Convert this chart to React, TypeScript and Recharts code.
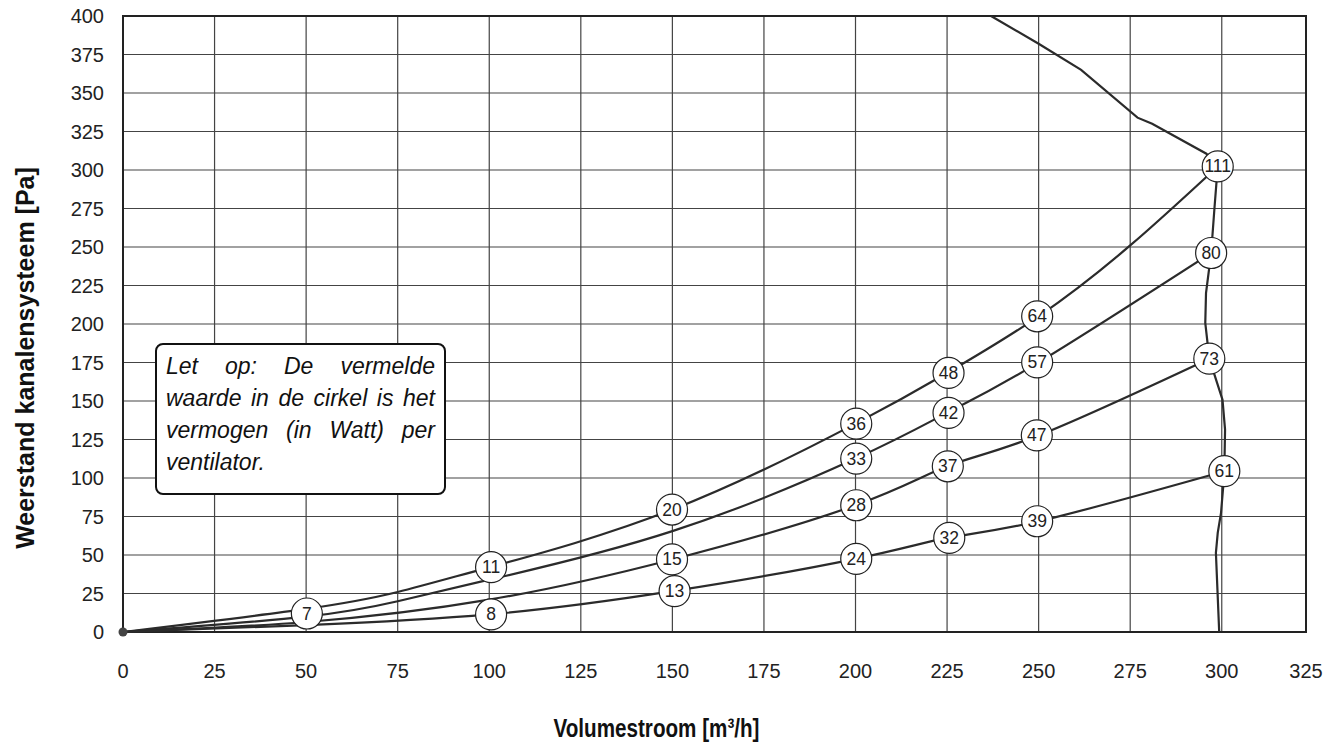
import React from 'react';
import {
  ComposedChart,
  Line,
  Scatter,
  XAxis,
  YAxis,
  CartesianGrid,
  ReferenceArea,
  Label,
} from 'recharts';

// ---- axis ticks ----
const xTicks = [0, 25, 50, 75, 100, 125, 150, 175, 200, 225, 250, 275, 300, 323];
const xTickLabels = ['0', '25', '50', '75', '100', '125', '150', '175', '200', '225', '250', '275', '300', '325'];
const yTicks = [0, 25, 50, 75, 100, 125, 150, 175, 200, 225, 250, 275, 300, 325, 350, 375, 400];

// ---- system (duct) curves: flow [m3/h] / pressure [Pa] ----
const curve1Flow = [0, 50, 75, 100, 150, 200, 225, 250, 275, 298.9];
const curve1Pa = [0, 15, 26, 42, 79.5, 135.3, 168.2, 205, 251, 302.3];

const curve2Flow = [0, 50, 75, 100, 150, 200, 225, 250, 297.1];
const curve2Pa = [0, 10, 20, 34, 65.5, 112.6, 142.3, 175.1, 246.1];

const curve3Flow = [0, 50, 100, 150, 200, 225, 250, 296.6];
const curve3Pa = [0, 6.5, 21, 47.1, 82.3, 107.6, 127.7, 177.5];

const curve4Flow = [0, 50, 100, 150, 200, 225, 250, 300.7];
const curve4Pa = [0, 4.5, 11.4, 26.5, 47.5, 61.1, 71.9, 104.4];

// ---- fan curve (max) ----
const fanFlow = [237, 250, 261.6, 277, 281, 295.8, 298.9, 298, 297.1, 295.7, 295.5, 296.6, 298, 300.2, 300.9, 300.7, 300.4, 299.8, 298.9, 298.4, 299.3];
const fanPa = [400, 382, 365, 334, 330, 310.6, 302.3, 275, 246.1, 220, 200.7, 177.5, 167.1, 150.9, 131.4, 104.4, 94.6, 77.4, 64.4, 51.4, 0];

// ---- circled power values [W] ----
const circleFlow = [50.2, 100.5, 149.9, 200.2, 225.4, 249.6, 298.9, 200.2, 225.4, 249.6, 297.1, 149.9, 200.2, 225.2, 249.5, 296.6, 100.5, 150.6, 200.2, 225.6, 249.6, 300.7];
const circlePa = [12, 42.1, 79.5, 135.3, 168.2, 205, 302.3, 112.6, 142.3, 175.1, 246.1, 47.1, 82.3, 107.6, 127.7, 177.5, 11.4, 26.5, 47.5, 61.1, 71.9, 104.4];
const circleWatt = [7, 11, 20, 36, 48, 64, 111, 33, 42, 57, 80, 15, 28, 37, 47, 73, 8, 13, 24, 32, 39, 61];

const originFlow = [0];
const originPa = [0];

const noteLines = [
  ['Let', 'op:', 'De', 'vermelde'],
  ['waarde', 'in', 'de', 'cirkel', 'is', 'het'],
  ['vermogen', '(in', 'Watt)', 'per'],
  ['ventilator.'],
];

const toPts = (xs: number[], ys: number[]) => xs.map((x, i) => ({ x, y: ys[i] }));

const curves = [
  toPts(curve1Flow, curve1Pa),
  toPts(curve2Flow, curve2Pa),
  toPts(curve3Flow, curve3Pa),
  toPts(curve4Flow, curve4Pa),
];
const fanData = toPts(fanFlow, fanPa);
const circleData = circleFlow.map((x, i) => ({ x, y: circlePa[i], w: circleWatt[i] }));
const originData = toPts(originFlow, originPa);

const FONT = '"Liberation Sans", Arial, sans-serif';
const LINE = '#2b2b2b';

const CircleShape = (props: any) => {
  const { cx, cy, payload } = props;
  return (
    <g>
      <circle cx={cx} cy={cy} r={15.5} fill="#fff" stroke="#222" strokeWidth={1.2} />
      <text
        x={cx}
        y={cy}
        textAnchor="middle"
        dominantBaseline="central"
        fontSize={17.5}
        fontFamily={FONT}
        fill="#222"
      >
        {payload.w}
      </text>
    </g>
  );
};

const OriginShape = (props: any) => {
  const { cx, cy } = props;
  return <circle cx={cx} cy={cy} r={4.5} fill="#444" />;
};

export default function App() {
  return (
    <div
      style={{
        position: 'relative',
        width: 1343,
        height: 751,
        margin: '-8px 0 -8px -8px',
        background: '#fff',
        fontFamily: FONT,
      }}
    >
      <ComposedChart
        width={1343}
        height={751}
        margin={{ top: 16, right: 37, bottom: 89, left: 63 }}
        style={{ fontFamily: FONT }}
      >
        <CartesianGrid stroke="#444" strokeWidth={1.2} />
        <XAxis
          type="number"
          dataKey="x"
          domain={[0, 323]}
          ticks={xTicks}
          interval={0}
          axisLine={false}
          tickLine={false}
          tickSize={0}
          tickMargin={32}
          height={30}
          tickFormatter={(v: number, i: number) => xTickLabels[i] ?? String(v)}
          tick={{ fontSize: 20, fill: '#222', fontFamily: FONT }}
        >
          <Label
            content={(p: any) => {
              const vb = p.viewBox || {};
              return (
                <text
                  x={(vb.x ?? 123) + (vb.width ?? 1183) / 2 - 58}
                  y={737}
                  textAnchor="middle"
                  fontSize={25}
                  textLength={206}
                  lengthAdjust="spacingAndGlyphs"
                  fontWeight="bold"
                  fontFamily={FONT}
                  fill="#111"
                >
                  Volumestroom [m³/h]
                </text>
              );
            }}
          />
        </XAxis>
        <YAxis
          type="number"
          dataKey="y"
          domain={[0, 400]}
          ticks={yTicks}
          interval={0}
          axisLine={false}
          tickLine={false}
          tickSize={0}
          tickMargin={19}
          width={60}
          tick={{ fontSize: 20, fill: '#222', fontFamily: FONT }}
        >
          <Label
            content={() => {
              const cx = 34;
              const cy = 358;
              return (
                <text
                  x={cx}
                  y={cy}
                  transform={`rotate(-90 ${cx} ${cy})`}
                  textAnchor="middle"
                  fontSize={25}
                  fontWeight="bold"
                  fontFamily={FONT}
                  fill="#111"
                >
                  Weerstand kanalensysteem [Pa]
                </text>
              );
            }}
          />
        </YAxis>
        <ReferenceArea
          x1={0}
          x2={323}
          y1={0}
          y2={400}
          fill="none"
          stroke="#222"
          strokeWidth={2}
          ifOverflow="extendDomain"
        />
        {curves.map((d, i) => (
          <Line
            key={i}
            data={d}
            dataKey="y"
            type="natural"
            stroke={LINE}
            strokeWidth={2.2}
            dot={false}
            activeDot={false}
            isAnimationActive={false}
          />
        ))}
        <Line
          data={fanData}
          dataKey="y"
          type="linear"
          stroke={LINE}
          strokeWidth={2.2}
          dot={false}
          activeDot={false}
          isAnimationActive={false}
        />
        <Scatter data={circleData} dataKey="y" shape={CircleShape} isAnimationActive={false} />
        <Scatter data={originData} dataKey="y" shape={OriginShape} isAnimationActive={false} />
      </ComposedChart>

      <div
        style={{
          position: 'absolute',
          left: 155,
          top: 343,
          width: 291,
          height: 152,
          boxSizing: 'border-box',
          border: '2px solid #111',
          borderRadius: 8,
          background: '#fff',
          padding: '5px 9px 0 9px',
          fontStyle: 'italic',
          fontSize: 23,
          color: '#111',
          fontFamily: FONT,
        }}
      >
        {noteLines.map((words, i) => (
          <div
            key={i}
            style={{
              display: 'flex',
              justifyContent: words.length > 1 ? 'space-between' : 'flex-start',
              height: 32,
              lineHeight: '32px',
              whiteSpace: 'nowrap',
            }}
          >
            {words.map((w, j) => (
              <span key={j}>{w}</span>
            ))}
          </div>
        ))}
      </div>
    </div>
  );
}
